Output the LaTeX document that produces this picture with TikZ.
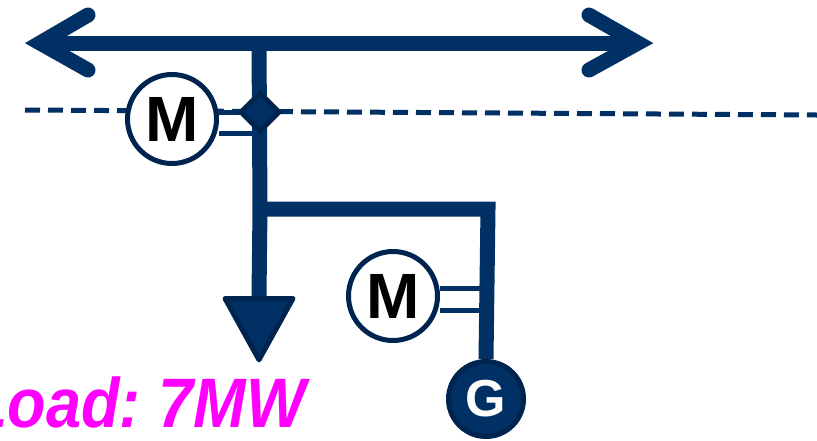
\documentclass[tikz,border=0pt]{standalone}
\usepackage{fontspec}
\setmainfont{Liberation Sans}
\usetikzlibrary{positioning}
\usetikzlibrary{shapes.geometric}
\usetikzlibrary{backgrounds}
\definecolor{busblue}{RGB}{0,48,100}
\definecolor{rimblue}{RGB}{0,36,80}
\definecolor{loadpink}{RGB}{255,0,255}
\begin{document}
\begin{tikzpicture}
[x=1pt,y=-1pt,
  busline/.style={draw=busblue,line width=15pt},
  motor/.style={circle,draw=rimblue,line width=5pt,fill=white,minimum size=89pt,inner sep=0pt,text=black,font=\bfseries\fontsize{64}{64}\selectfont},
  stub/.style={draw=busblue,line width=5pt}]
\useasboundingbox (0,0) rectangle (817,440);
%% nodes
\coordinate (westend) at (40,43);
\coordinate (eastend) at (638,43);
\coordinate (westup) at (88,15);
\coordinate (westdown) at (88,70);
\coordinate (eastup) at (589,15);
\coordinate (eastdown) at (589,70);
\coordinate (tap) at (259,43);
\coordinate (corner) at (260,209);
\coordinate (bend) at (488,209);
\coordinate (dashwest) at (25,110);
\coordinate (dasheast) at (817,115);
\node[motor] (m1) at (172,119) {M};
\node[motor] (m2) at (393,296) {M};
\node[diamond,draw=rimblue,fill=busblue,line width=5pt,minimum size=40pt,inner sep=0pt] (valve) at (260,112) {};
\node[isosceles triangle,isosceles triangle apex angle=58,shape border rotate=-90,fill=busblue,draw=rimblue,line width=5pt,line join=round,minimum width=68pt,inner sep=0pt,anchor=apex] (load) at (259,365) {};
\node[circle,fill=busblue,draw=rimblue,line width=5pt,minimum size=75pt,inner sep=0pt,text=white,font=\bfseries\fontsize{52}{52}\selectfont] (gen) at (486,399) {G};
\node[text=loadpink,inner sep=0pt,font=\bfseries\itshape\fontsize{70}{70}\selectfont,anchor=base east] (loadtext) at (306,427) {\scalebox{0.9}[1]{Load:\hspace{-6pt} 7MW}};
%% lines
\begin{scope}[on background layer]
\draw[busblue,line width=5pt,dash pattern=on 15pt off 8pt] (dashwest) -- (dasheast);
\path[busline] (westend) -- (eastend);
\path[busline,line cap=round,line join=miter] (westup) -- (westend) -- (westdown);
\path[busline,line cap=round,line join=miter] (eastup) -- (eastend) -- (eastdown);
\path[busline] (tap) -- (corner);
\path[busline] (corner) -- (bend) -- (gen.north);
\path[busline] (corner) -- (load.north);
\path[stub] (m1.east |- 0,112) -- (252,112);
\path[stub] (m1.east |- 0,133) -- (252,133);
\path[stub] (m2.east |- 0,288) -- (481,288);
\path[stub] (m2.east |- 0,310) -- (481,310);
\end{scope}
\end{tikzpicture}
\end{document}
